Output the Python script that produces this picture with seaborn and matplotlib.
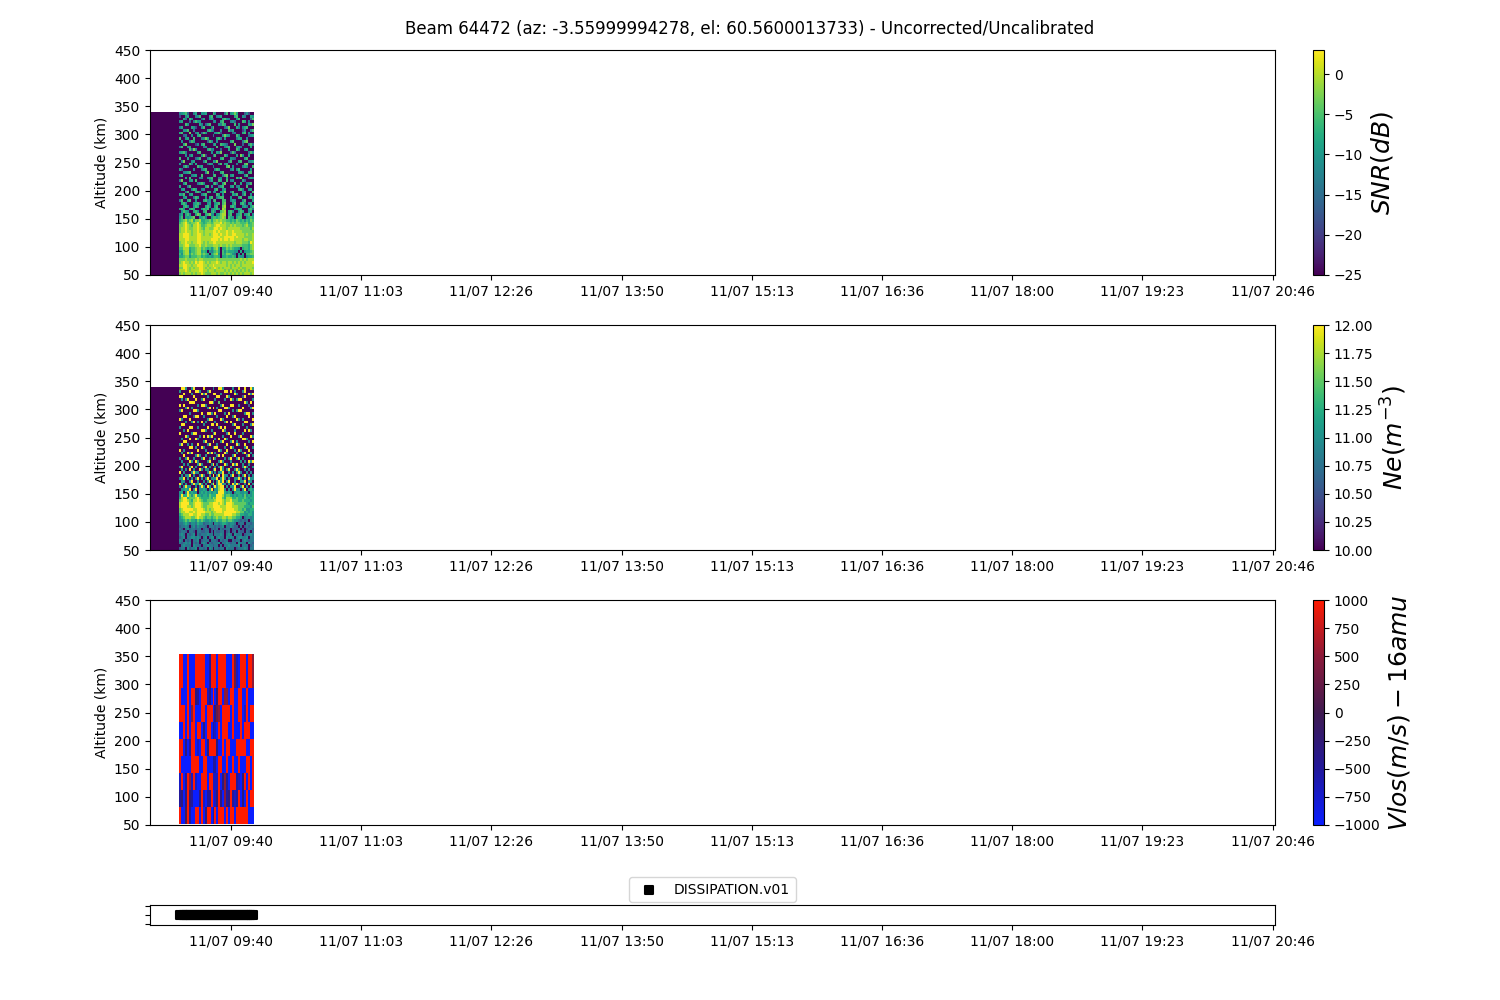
import numpy as np
import pandas as pd
import seaborn as sns
import matplotlib.pyplot as plt
from matplotlib.colors import LinearSegmentedColormap

# == Values == #

TITLE = 'Beam 64472 (az: -3.55999994278, el: 60.5600013733) - Uncorrected/Uncalibrated'

tick_labels = ['11/07 09:40', '11/07 11:03', '11/07 12:26', '11/07 13:50', '11/07 15:13',
               '11/07 16:36', '11/07 18:00', '11/07 19:23', '11/07 20:46']
# minutes after the left edge of the axis (08:48)
tick_minutes = [51.8, 135.1, 218.5, 301.8, 385.1, 468.5, 551.8, 635.1, 718.5]
altitude_ticks = [50, 100, 150, 200, 250, 300, 350, 400, 450]

# one character per cell, top row is the highest altitude
snr_levels = [-25, -19, -16, -13, -10.5, -8, -5.5, -3, -0.5, 2.5]
snr_rows = [
    "34562003500445000640000360457500024100", "10045000346000056003450000005600430054",
    "00530640000250045100005643000460000026", "45000203644000000340056000342000650300",
    "00064000005302560000436500006040000547", "35000054100460003600000247000530356000",
    "00446003000000564200040006350000140036", "56000700350264000045610000023000560400",
    "00230040056000000300004754000640000245", "60045006000347500005630400000355004000",
    "04000365000000264004000000560000367000", "00570000140560000350065420007000200463",
    "36004500000034000006000356000453000050", "00000627400000563400020005000640045000",
    "45630000056000004005470000263000000364", "00040350000471000360000640000507400500",
    "60005000246000350000056000432000056000", "03700045000036000547000003600056000345",
    "40000630500000254000360450000300067000", "00463000064500000300000067040000354006",
    "52000004000356000046500000350460000040", "00345600000004700300056000000045300560",
    "46000034500600000560003670450000046000", "00050600003400456000340050000647000354",
    "37000450600000035000650060340000520000", "00460000035640000463005700006005003460",
    "50003600000005604000356000450340006000", "04500046500340000056004500000056300450",
    "00036000564000650340045700360000450006", "54600450000356000006504000054600360040",
    "00450003650004056003566000400056000564", "36005600400056340560006600354000460005",
    "05640004563000450045606700046005630450", "00564004650005640056007800564000453046",
    "56400565000465604556408700004565000563", "04654005640056005640067805640046500450",
    "35056400576005674404578805600456045604", "46054567004563005665678706540566004565",
    "56786785778556675778787766565765646576", "67897677897656776788897877676776667567",
    "77898768898667887789988877878777678667", "78898778898768877899898878888887777768",
    "78898878898878888998988898898888777777", "88999878899878878999898898899888878778",
    "88999888899888888999988999998988877778", "88899888899888889999898998998888788778",
    "78898878899878788998888888887888777698", "77899777889778777888787787877777666578",
    "66888566788676564678505576765540566578", "55788466788565043567506465554405045567",
    "64788576788676505678406577643040506677", "55677466677565454566505565565054404556",
    "77787777878877777778777777777778787888", "78988787989987878889878878878787878889",
    "88998878899988788988888878787887888888", "77998787889987878898787888788878778887",
    "88898788889988788878888787878787878788", "78788878788987778887877878787878788878",
]

ne_levels = [10.0, 10.2, 10.4, 10.6, 10.8, 11.0, 11.25, 11.5, 11.75, 12.0]
ne_rows = [
    "09950059000090000500995000050090090095", "50000900995000590000000990905000590000",
    "00900050000959000990050000009500000959", "99000009000000500009900095000000390000",
    "05059000900590000050000500950599000005", "00000999000000099500700000000000095090",
    "90900000050995000000059000990050000300", "00059050000000590905000995000000900059",
    "59000009950000000000990000050599000000", "00000500000900995090000509000000059905",
    "00990003990050000005000090059000000900", "95000900000000599000095000000950500009",
    "00050059050905000050000590900000099000", "09900000000050009909000000059000500059",
    "50000990050000900000590900000990005000", "00509000000995005000009500005000090950",
    "90000059900000000590000059009000500000", "00095000005090959000005000900059000095",
    "05000900950000000050900950000000995000", "00990000000059000900059000590500000509",
    "59005050090000590005000090000950090000", "00000990500950000599000500950000059005",
    "90500000090005000000950090005095000900", "05009590000000959050000950000500590050",
    "00900000595005000005909000059000005905", "50059005000590050950000505900590500000",
    "05000950950000590000595000500005050959", "00505000059500005905000950095900500500",
    "59000590500059050050595000500000595005", "05050905009505500590095059005950050500",
    "90500059550000595050559005050595005050", "05055905005950050905909550590050590505",
    "55905050590505905559059505005595050955", "05500590050050590505959059005005590550",
    "95050059559505005905995505095950050905", "50595500505950950595899050559005905050",
    "05565905905565059055899505059550590565", "56059565505656565665999656505665565056",
    "59669757966566576669998677656566575656", "68996777897666676879997688866766676566",
    "78998768898766777789998788977766766656", "89999778999877788999898799987777776566",
    "89998878999877888999988899988877766657", "78999998899987878899998899998877675566",
    "78899889899998887889998999999887756565", "67888998899887787788888999988776655665",
    "56788877898876776778778878877665045545", "55676766576765565667667767765543434045",
    "44565355465534454055456654554034404434", "34454045354443044434345044543304034344",
    "43045344344034303434043344033340303443", "34430443044334403043344034034043304304",
    "45404345043444544044454045405444034454", "34504455454045045504544054540455445044",
    "54043404450344404443043440043440454344", "43454504340454043444504454344054440543",
    "04544405443044544344040445444450444034", "34405344504434054044344054440344454044",
]

vlos_levels = [-1000, -700, -500, -300, -100, 100, 300, 500, 700, 1000]
vlos_rows = [
    "99009000999990029990999900096109990997", "99009000999990029990999900096109990997",
    "90009099320999130903990770990099009000", "99909079000990999036709999090099019099",
    "00909099099030990210909990090009099900", "99030299010990399993009099000999990099",
    "90000099990099000220990090090090009909", "19029719100999099111903720999210390909",
    "23039320003910229013930723921290309099", "90059200990903990290999090990999999000",
]

dissipation_minutes = [19.5, 20.8, 22.0, 23.3, 24.5, 25.8, 27.1, 28.3, 29.6, 30.9,
                       32.1, 33.4, 34.6, 35.9, 37.2, 38.4, 39.7, 41.0, 42.2, 43.5,
                       44.7, 46.0, 47.3, 48.5, 49.8, 51.1, 52.3, 53.6, 54.8, 56.1,
                       57.4, 58.6, 59.9, 61.2, 62.4, 63.7, 64.9, 66.2]
dissipation_label = 'DISSIPATION.v01'

# == Layout == #

NCOLS = 38
NLEAD = 15            # columns before the first scan
COL_MINUTES = 1.25    # one column
AXIS_MINUTES = 720.0

vlos_cmap = LinearSegmentedColormap.from_list(
    'vlos', ['#0a1eff', '#22189a', '#3f1a50', '#8a1a3a', '#ff1a00'])


def decode(rows, levels):
    grid = [[levels[int(c)] for c in r.ljust(NCOLS, '0')[:NCOLS]] for r in rows]
    return np.array(grid[::-1], dtype=float)


def panelAxes(fig, top):
    ax = fig.add_axes([150 / 1500, 1 - (top + 225) / 1000, 1125 / 1500, 225 / 1000])
    cax = fig.add_axes([1313 / 1500, 1 - (top + 225) / 1000, 11 / 1500, 225 / 1000])
    return ax, cax


def timeAxis(ax, scale=1.0):
    ax.set_xlim(0, AXIS_MINUTES * scale)
    ax.set_xticks([m * scale for m in tick_minutes])
    ax.set_xticklabels(tick_labels, rotation=0)


def drawPanel(fig, top, grid, lead, alt_base, alt_step, cmap, vmin, vmax, label):
    ax, cax = panelAxes(fig, top)
    data = np.hstack([np.full((grid.shape[0], NLEAD), lead), grid])
    df = pd.DataFrame(data)
    sns.heatmap(df, ax=ax, cbar_ax=cax, cmap=cmap, vmin=vmin, vmax=vmax,
                xticklabels=False, yticklabels=False)
    ax.invert_yaxis()
    timeAxis(ax, 1.0 / COL_MINUTES)
    ax.set_ylim((50 - alt_base) / alt_step, (450 - alt_base) / alt_step)
    ax.set_yticks([(a - alt_base) / alt_step for a in altitude_ticks])
    ax.set_yticklabels(altitude_ticks, rotation=0)
    ax.set_ylabel('Altitude (km)')
    for s in ax.spines.values():
        s.set_visible(True)
        s.set_linewidth(0.8)
    cbar = ax.collections[0].colorbar
    cbar.outline.set_linewidth(0.8)
    cbar.outline.set_edgecolor('black')
    cbar.set_label(label, fontsize=18)
    return ax


fig = plt.figure(figsize=(15, 10), dpi=100)
fig.suptitle(TITLE)

drawPanel(fig, 50, decode(snr_rows, snr_levels), -25, 50, 5, 'viridis', -25, 3, '$SNR(dB)$')
drawPanel(fig, 325, decode(ne_rows, ne_levels), 10, 50, 5, 'viridis', 10, 12, '$Ne(m^{-3})$')
drawPanel(fig, 600, decode(vlos_rows, vlos_levels), np.nan, 52, 30.2, vlos_cmap, -1000, 1000,
          '$Vlos(m/s) - 16amu$')

# == Data availability strip == #

ax4 = fig.add_axes([150 / 1500, 1 - 925 / 1000, 1125 / 1500, 20 / 1000])
sns.scatterplot(x=dissipation_minutes, y=[0.0] * len(dissipation_minutes), ax=ax4,
                marker='s', color='black', s=36, linewidth=1.5, edgecolor='black',
                label=dissipation_label)
timeAxis(ax4)
ax4.set_ylim(-0.0555, 0.0555)
ax4.set_yticks([-0.05, 0, 0.05])
ax4.set_yticklabels([])
ax4.legend(loc='lower center', bbox_to_anchor=(0.5, 0.8))

fig.savefig('out.png', dpi=100)
